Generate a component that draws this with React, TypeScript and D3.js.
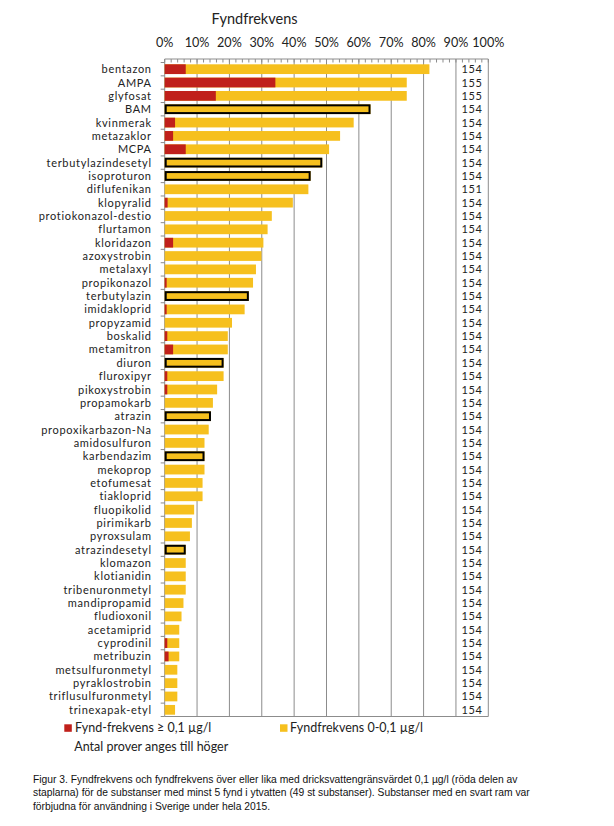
import React from "react";
import * as d3 from "d3";

const categories = [
  "bentazon", "AMPA", "glyfosat", "BAM", "kvinmerak", "metazaklor", "MCPA",
  "terbutylazindesetyl", "isoproturon", "diflufenikan", "klopyralid",
  "protiokonazol-destio", "flurtamon", "kloridazon", "azoxystrobin", "metalaxyl",
  "propikonazol", "terbutylazin", "imidakloprid", "propyzamid", "boskalid",
  "metamitron", "diuron", "fluroxipyr", "pikoxystrobin", "propamokarb", "atrazin",
  "propoxikarbazon-Na", "amidosulfuron", "karbendazim", "mekoprop", "etofumesat",
  "tiakloprid", "fluopikolid", "pirimikarb", "pyroxsulam", "atrazindesetyl",
  "klomazon", "klotianidin", "tribenuronmetyl", "mandipropamid", "fludioxonil",
  "acetamiprid", "cyprodinil", "metribuzin", "metsulfuronmetyl", "pyraklostrobin",
  "triflusulfuronmetyl", "trinexapak-etyl",
];

// total detection frequency (%)
const totalFreq = [
  81.8, 74.8, 74.8, 63.6, 58.4, 54.2, 50.8,
  48.7, 45.1, 44.4, 39.6,
  33.1, 31.8, 30.5, 29.9, 28.2,
  27.3, 26.0, 24.7, 20.8, 19.5,
  19.5, 18.2, 18.2, 16.2, 14.9, 14.3,
  13.6, 12.3, 12.3, 12.3, 11.7,
  11.7, 9.1, 8.4, 7.8, 6.5,
  6.5, 6.5, 6.5, 5.8, 5.2,
  4.5, 4.5, 4.5, 3.9, 3.9,
  3.9, 3.2,
];

// frequency >= 0.1 µg/l (%)
const highFreq = [
  6.5, 34.2, 15.8, 0, 3.2, 2.6, 6.5,
  0, 0, 0, 0.9,
  0, 0, 2.6, 0, 0,
  0.6, 0, 0.6, 0, 0.8,
  2.6, 0, 0.8, 0.8, 0, 0,
  0, 0, 0, 0, 0,
  0, 0, 0, 0, 0,
  0, 0, 0, 0, 0,
  0, 0.8, 1.2, 0, 0,
  0, 0,
];

const sampleCounts = [
  154, 155, 155, 154, 154, 154, 154,
  154, 154, 151, 154,
  154, 154, 154, 154, 154,
  154, 154, 154, 154, 154,
  154, 154, 154, 154, 154, 154,
  154, 154, 154, 154, 154,
  154, 154, 154, 154, 154,
  154, 154, 154, 154, 154,
  154, 154, 154, 154, 154,
  154, 154,
];

const banned = [
  "BAM", "terbutylazindesetyl", "isoproturon", "terbutylazin", "diuron",
  "atrazin", "karbendazim", "atrazindesetyl",
];

const tickValues = [0, 10, 20, 30, 40, 50, 60, 70, 80, 90, 100];

const captionLines = [
  "Figur 3. Fyndfrekvens och fyndfrekvens över eller lika med dricksvattengränsvärdet 0,1 µg/l (röda delen av",
  "staplarna) för de substanser med minst 5 fynd i ytvatten (49 st substanser). Substanser med en svart ram var",
  "förbjudna för användning i Sverige under hela 2015.",
];

const RED = "#C0201B";
const YELLOW = "#F6C01E";
const FONT = "Lato, 'Open Sans', sans-serif";

export default function App() {
  const W = 614;
  const H = 826;
  const x = d3.scaleLinear().domain([0, 100]).range([164.7, 488.3]);
  const y = d3
    .scaleBand<string>()
    .domain(categories)
    .range([62.5, 716.5])
    .paddingInner(0.27)
    .paddingOuter(0.135);
  const top = 62.5;
  const bottom = 716.5;
  const minorTicks = d3.range(0, 101, 2);
  const step = y.step();

  return (
    <svg
      width={W}
      height={H}
      viewBox={`0 0 ${W} ${H}`}
      style={{ position: "absolute", left: 0, top: 0, background: "#fff" }}
    >
      <rect x={0} y={0} width={W} height={H} fill="#fff" />
      {/* title */}
      <text x={254.5} y={24} textAnchor="middle" fontFamily={FONT} fontSize={14.5} fill="#222">
        Fyndfrekvens
      </text>
      {/* tick labels */}
      {tickValues.map((t) => (
        <text key={t} x={x(t)} y={46.5} textAnchor="middle" fontFamily={FONT} fontSize={12.6} fill="#222">
          {t}%
        </text>
      ))}
      {/* gridlines */}
      {tickValues.slice(1).map((t) => (
        <line key={t} x1={x(t)} x2={x(t)} y1={59} y2={bottom} stroke="#8c8c8c" strokeWidth={1} />
      ))}
      {/* top axis */}
      <line x1={x(0)} x2={x(100)} y1={59} y2={59} stroke="#8c8c8c" strokeWidth={1} />
      {minorTicks.map((t) => (
        <line key={t} x1={x(t)} x2={x(t)} y1={59} y2={62.5} stroke="#8c8c8c" strokeWidth={1} />
      ))}
      {/* bottom border */}
      <line x1={x(0)} x2={x(100)} y1={bottom} y2={bottom} stroke="#8c8c8c" strokeWidth={1} />
      {/* left axis */}
      <line x1={x(0)} x2={x(0)} y1={59} y2={bottom} stroke="#8c8c8c" strokeWidth={1} />
      {d3.range(categories.length + 1).map((i) => (
        <line
          key={i}
          x1={x(0) - 4}
          x2={x(0)}
          y1={top + i * step}
          y2={top + i * step}
          stroke="#8c8c8c"
          strokeWidth={1}
        />
      ))}
      {/* bars */}
      {categories.map((c, i) => {
        const by = y(c) as number;
        const bh = y.bandwidth();
        const isBanned = banned.includes(c);
        return (
          <g key={c}>
            <rect x={x(0)} y={by} width={x(totalFreq[i]) - x(0)} height={bh} fill={YELLOW} />
            {highFreq[i] > 0 && (
              <rect x={x(0)} y={by} width={x(highFreq[i]) - x(0)} height={bh} fill={RED} />
            )}
            {isBanned && (
              <rect
                x={x(0) + 1}
                y={by + 1}
                width={x(totalFreq[i]) - x(0) - 2}
                height={bh - 2}
                fill="none"
                stroke="#000"
                strokeWidth={2}
              />
            )}
            <text
              x={151.7}
              y={by + bh / 2 + 4}
              textAnchor="end"
              fontFamily={FONT}
              fontSize={11}
              letterSpacing={0.68}
              fill="#222"
            >
              {c}
            </text>
            <text
              x={461.5}
              y={by + bh / 2 + 4}
              fontFamily={FONT}
              fontSize={11}
              letterSpacing={0.68}
              fill="#222"
            >
              {sampleCounts[i]}
            </text>
          </g>
        );
      })}
      {/* legend */}
      <rect x={64.3} y={724.3} width={7.5} height={7.5} fill={RED} />
      <text x={75} y={732.3} fontFamily={FONT} fontSize={12.5} fill="#222">
        Fynd-frekvens ≥ 0,1 µg/l
      </text>
      <rect x={280} y={724.3} width={7.5} height={7.5} fill={YELLOW} />
      <text x={290} y={732.3} fontFamily={FONT} fontSize={12.5} fill="#222">
        Fyndfrekvens 0-0,1 µg/l
      </text>
      <text x={74.3} y={751} fontFamily={FONT} fontSize={12.5} fill="#222">
        Antal prover anges till höger
      </text>
      {/* caption */}
      {captionLines.map((l, i) => (
        <text
          key={i}
          x={33}
          y={782.7 + i * 13.6}
          fontFamily="'Liberation Sans', Arial, sans-serif"
          fontSize={10.3}
          fill="#111"
        >
          {l}
        </text>
      ))}
    </svg>
  );
}
